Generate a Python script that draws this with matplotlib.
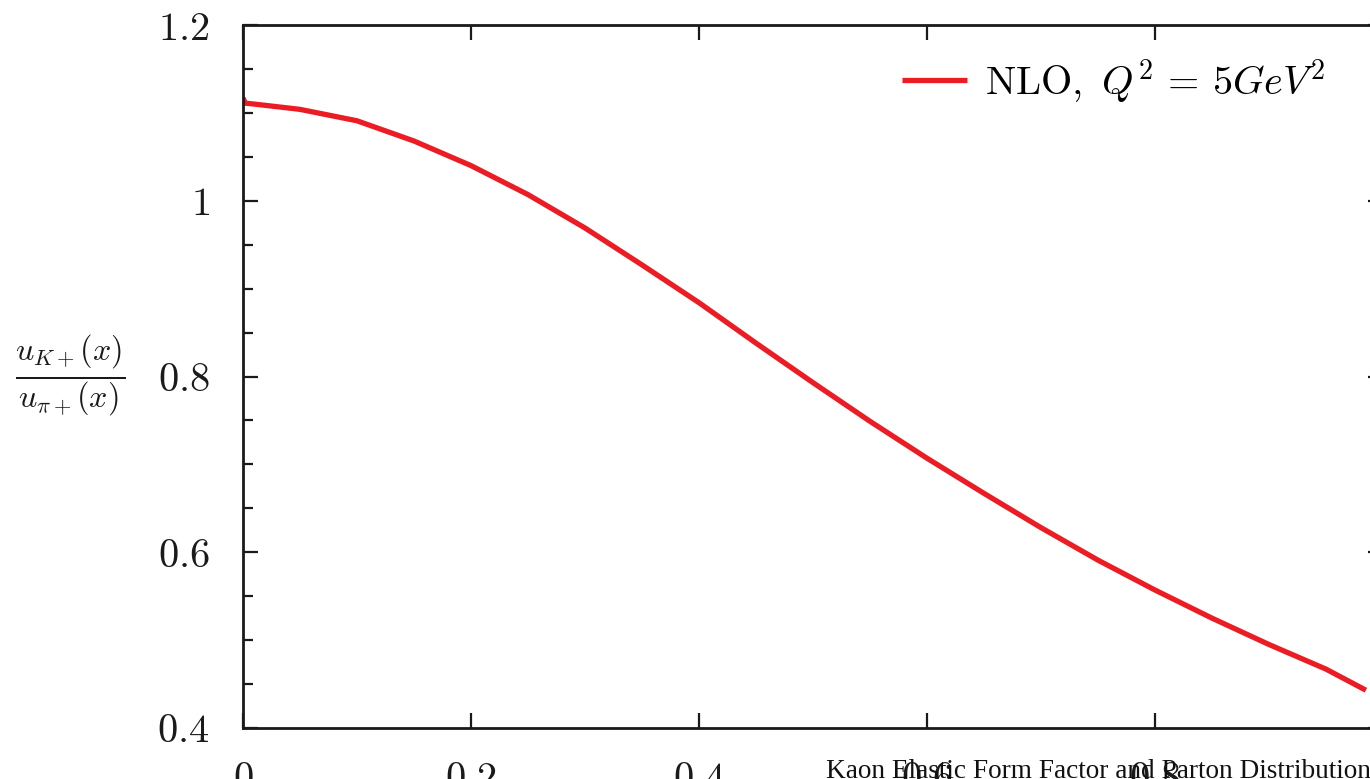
import numpy as np
import matplotlib.pyplot as plt
from matplotlib.ticker import MultipleLocator, FixedLocator

plt.rcParams['mathtext.fontset'] = 'cm'
plt.rcParams['font.family'] = ['DejaVu Serif']

# ratio u_K+/u_pi+ at NLO, Q^2 = 5 GeV^2
x = [0.0, 0.002, 0.01, 0.05, 0.1, 0.15, 0.2, 0.25, 0.3, 0.35, 0.4, 0.45,
     0.5, 0.55, 0.6, 0.65, 0.7, 0.75, 0.8, 0.85, 0.9, 0.95, 0.985]
ratio = [1.117, 1.111, 1.110, 1.104, 1.091, 1.068, 1.040, 1.007, 0.969,
         0.927, 0.884, 0.838, 0.793, 0.749, 0.707, 0.667, 0.628, 0.591,
         0.557, 0.525, 0.495, 0.467, 0.443]

xticks = [0, 0.2, 0.4, 0.6, 0.8, 1.0]
yticks = [0.4, 0.6, 0.8, 1.0, 1.2]
xtick_labels = ['$0$', '$0.2$', '$0.4$', '$0.6$', '$0.8$', '$1$']
ytick_labels = ['$0.4$', '$0.6$', '$0.8$', '$1$', '$1.2$']

W, H = 1370, 779
fig = plt.figure(figsize=(W / 100, H / 100), dpi=100)
ax = fig.add_axes([243 / W, 51 / H, (1383 - 243) / W, (728 - 25) / H])

ax.plot(x, ratio, color='#ec1c24', lw=3.8,
        label=r'$\mathrm{NLO},\ Q^2\,=\,5GeV^2$', solid_capstyle='butt')

ax.set_xlim(0, 1)
ax.set_ylim(0.4, 1.2)
ax.xaxis.set_major_locator(FixedLocator(xticks))
ax.set_xticklabels(xtick_labels)
ax.yaxis.set_major_locator(FixedLocator(yticks))
ax.set_yticklabels(ytick_labels)
ax.yaxis.set_minor_locator(MultipleLocator(0.05))

ax.tick_params(which='both', direction='in', top=True, right=True,
               width=1.6, colors='#1a1a1a', labelcolor='#1a1a1a')
ax.tick_params(which='major', length=11, pad=24, labelsize=29)
ax.tick_params(which='minor', length=7)
for s in ax.spines.values():
    s.set_linewidth(2.0)
    s.set_color('#1a1a1a')

ax.text(-0.152, 0.5, r'$\frac{u_{K+}(x)}{u_{\pi+}(x)}$', transform=ax.transAxes,
        fontsize=33, ha='center', va='center', color='#1a1a1a')

leg = ax.legend(loc='upper right', bbox_to_anchor=(0.981, 1.006), frameon=False,
                fontsize=29, handlelength=1.6, handletextpad=0.45)

fig.text(826 / W, 1 / H, 'Kaon Elastic Form Factor and Parton Distribution',
         family='Liberation Serif', fontsize=19.6, ha='left', va='baseline',
         color='#111111')

fig.savefig('out.png', dpi=100)
